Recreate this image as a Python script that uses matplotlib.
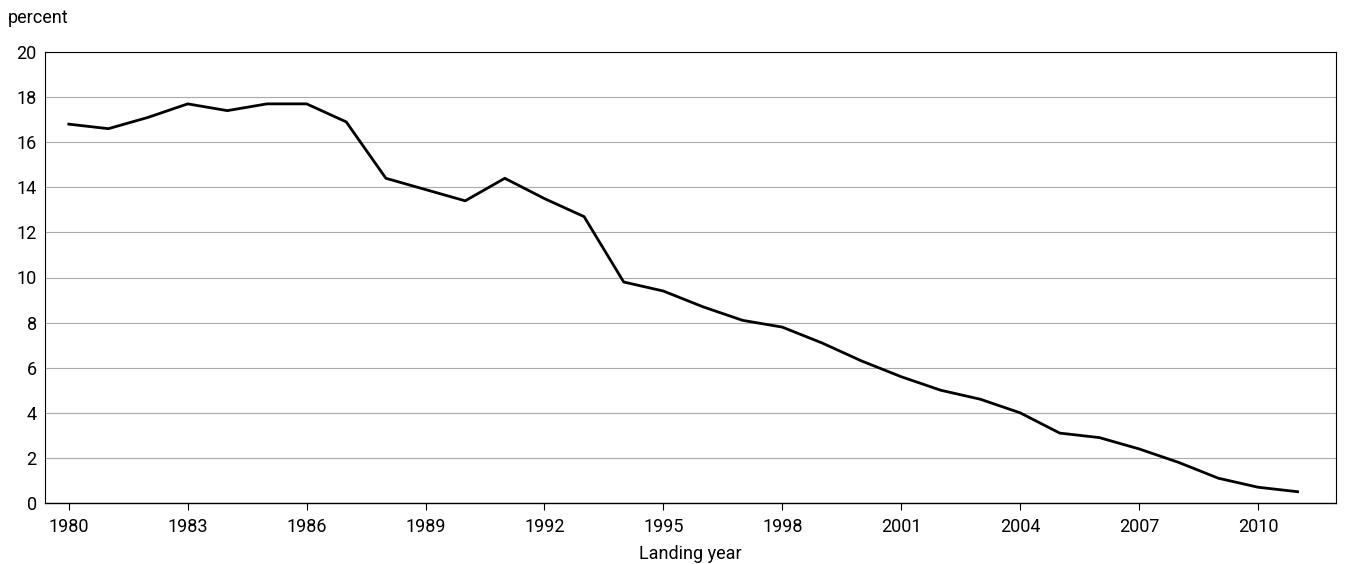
import matplotlib
matplotlib.use("Agg")
import matplotlib.pyplot as plt

plt.rcParams['font.family'] = ['Liberation Sans Narrow', 'Roboto', 'DejaVu Sans']

# ================= DATA =================
years = list(range(1980, 2012))
percent = [16.8, 16.6, 17.1, 17.7, 17.4, 17.7, 17.7, 16.9, 14.4, 13.9,
           13.4, 14.4, 13.5, 12.7, 9.8, 9.4, 8.7, 8.1, 7.8, 7.1,
           6.3, 5.6, 5.0, 4.6, 4.0, 3.1, 2.9, 2.4, 1.8, 1.1,
           0.7, 0.5]
xticks = list(range(1980, 2012, 3))
yticks = list(range(0, 21, 2))
# ========================================

fig = plt.figure(figsize=(13.48, 5.64), dpi=100)
ax = fig.add_axes([45 / 1348, 61 / 564, 1291 / 1348, 451 / 564])

ax.plot(years, percent, color="black", linewidth=2)

ax.set_xlim(1979.4, 2011.97)
ax.set_ylim(0, 20)
ax.set_xticks(xticks)
ax.set_yticks(yticks)
ax.tick_params(labelsize=13, length=0, pad=6)
ax.tick_params(axis="x", length=5, direction="out", color="black")
ax.grid(axis="y", color="#aaaaaa", linewidth=0.8)
ax.set_axisbelow(True)
for side in ["top", "right", "left"]:
    ax.spines[side].set_linewidth(0.8)
ax.spines["bottom"].set_linewidth(1)

ax.set_xlabel("Landing year", fontsize=13, labelpad=6)
fig.text(8 / 1348, 1 - 18 / 564, "percent", fontsize=13, va="center", ha="left")

plt.savefig("out.png", dpi=100)
